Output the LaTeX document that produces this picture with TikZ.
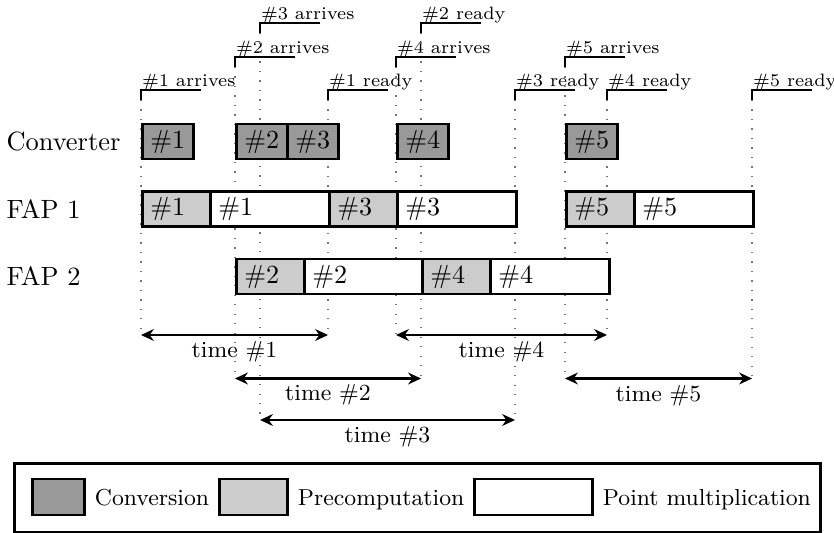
\documentclass[tikz,border=0pt]{standalone}
\usetikzlibrary{arrows.meta}
\newcommand\evmark[5]{%
  \coordinate (#4top) at (#1,#2+10);
  \coordinate (#4bot) at (#1,#3);
  \draw[guide] (#4top) -- (#4bot);
  \draw[brk] (#4top) -- (#1,#2) -- (#1+60,#2);
  \node[evlbl] (#4) at (#1+0.5,#2-3.5) {#5};}
\begin{document}
\begin{tikzpicture}[x=0.39pt,y=-0.39pt,
  gb/.style={draw, line width=1.05pt, anchor=west, minimum height=13.65pt, inner xsep=3.12pt, inner ysep=0pt, align=left, font=\fontsize{10.2}{12}\selectfont},
  cv/.style={gb, fill=black!40, text width=13.65pt},
  pc/.style={gb, fill=black!20, text width=20.28pt},
  pmul/.style={gb, fill=white, text width=40.17pt},
  rowlbl/.style={anchor=west, inner sep=0pt, font=\fontsize{10.3}{12}\selectfont},
  evlbl/.style={anchor=base west, inner sep=0pt, font=\scriptsize},
  brk/.style={line width=0.5pt},
  guide/.style={black!55, line width=0.5pt, dash pattern=on 0.5pt off 3.2pt},
  tarr/.style={line width=1.1pt, {Stealth[length=5pt,width=4.6pt]}-{Stealth[length=5pt,width=4.6pt]}},
  tlbl/.style={inner sep=0pt, font=\small},
  lgbox/.style={draw, line width=1.05pt, anchor=west, minimum height=14.04pt, inner sep=0pt},
  lgtxt/.style={anchor=base west, inner xsep=3.4pt, inner ysep=0pt, font=\small}
]
\useasboundingbox (0,0) rectangle (834,533);

% event guides and brackets
\evmark{141}{90}{335}{aa}{\#1 arrives}
\evmark{235}{57}{378.5}{ab}{\#2 arrives}
\evmark{260}{23}{420}{ac}{\#3 arrives}
\evmark{328}{90}{335}{ra}{\#1 ready}
\evmark{396}{57}{335}{ad}{\#4 arrives}
\evmark{421}{23}{378.5}{rb}{\#2 ready}
\evmark{515}{90}{420}{rc}{\#3 ready}
\evmark{565}{57}{378.5}{ae}{\#5 arrives}
\evmark{607}{90}{335}{rd}{\#4 ready}
\evmark{752}{90}{378.5}{re}{\#5 ready}

% row labels
\node[rowlbl] (lc)  at (6,141.5) {Converter};
\node[rowlbl] (lf1) at (6,209)   {FAP 1};
\node[rowlbl] (lf2) at (6,276.5) {FAP 2};

% converter
\node[cv] (c1) at (141,141.5) {\#1};
\node[cv] (c2) at (235,141.5) {\#2};
\node[cv] (c3) at (286,141.5) {\#3};
\node[cv] (c4) at (396,141.5) {\#4};
\node[cv] (c5) at (565,141.5) {\#5};

% FAP 1
\node[pc]   (p1) at (141,209) {\#1};
\node[pmul] (m1) at (209,209) {\#1};
\node[pc]   (p3) at (328,209) {\#3};
\node[pmul] (m3) at (396,209) {\#3};
\node[pc]   (p5) at (565,209) {\#5};
\node[pmul] (m5) at (633,209) {\#5};

% FAP 2
\node[pc]   (p2) at (235,276.5) {\#2};
\node[pmul] (m2) at (303,276.5) {\#2};
\node[pc]   (p4) at (421,276.5) {\#4};
\node[pmul] (m4) at (489,276.5) {\#4};

% time arrows
\draw[tarr] (aabot) -- (rabot);
\draw[tarr] (abbot) -- (rbbot);
\draw[tarr] (acbot) -- (rcbot);
\draw[tarr] (adbot) -- (rdbot);
\draw[tarr] (aebot) -- (rebot);
\node[tlbl] (t1) at (234.5,352) {time \#1};
\node[tlbl] (t2) at (328,395)   {time \#2};
\node[tlbl] (t3) at (387.5,437) {time \#3};
\node[tlbl] (t4) at (501.5,352) {time \#4};
\node[tlbl] (t5) at (658.5,396) {time \#5};

% legend
\node[draw, line width=1.05pt, anchor=north west, minimum width=314.34pt, minimum height=26.91pt, inner sep=0pt] (legend) at (13,462) {};
\node[lgbox, fill=black!40, minimum width=20.28pt] (lgc) at (31,497) {};
\node[lgbox, fill=black!20, minimum width=26.52pt] (lgp) at (218,497) {};
\node[lgbox, fill=white,    minimum width=46.02pt] (lgm) at (473,497) {};
\coordinate (lgbase) at (0,505);
\node[lgtxt] (ltc) at (lgc.east |- lgbase) {Conversion};
\node[lgtxt] (ltp) at (lgp.east |- lgbase) {Precomputation};
\node[lgtxt] (ltm) at (lgm.east |- lgbase) {Point multiplication};
\end{tikzpicture}
\end{document}
